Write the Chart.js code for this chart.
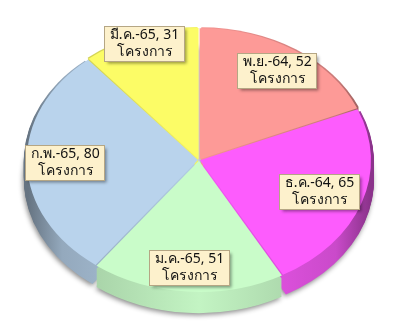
<!DOCTYPE html>
<html lang="th">
<head>
  <meta charset="UTF-8" />
  <title>จำนวนโครงการรายเดือน</title>
  <script src="https://cdn.jsdelivr.net/npm/chart.js"></script>
  <style>
    html, body { margin: 0; padding: 0; background: #ffffff; }
    #wrap { width: 399px; height: 334px; }
  </style>
</head>
<body>
  <div id="wrap"><canvas id="pieChart" width="399" height="334"></canvas></div>

  <script>
    // data
    const months = ["พ.ย.-64", "ธ.ค.-64", "ม.ค.-65", "ก.พ.-65", "มี.ค.-65"];
    const projects = [52, 65, 51, 80, 31];
    const unitLabel = "โครงการ";

    // look
    const sliceColors = ["#fd9a97", "#fd5cfd", "#c9fcc9", "#b9d3ec", "#fcfc66"];
    const labelReach = [0.8, 0.72, 0.8, 0.76, 0.92];   // how far out each label sits
    const view = { cx: 199, cy: 160, rx: 171, ry: 131, depth: 19 };
    const FONT = '14px Tahoma, "Noto Sans", "DejaVu Sans", sans-serif';

    function rgb(hex) {
      const n = parseInt(hex.slice(1), 16);
      return [(n >> 16) & 255, (n >> 8) & 255, n & 255];
    }
    function shade(hex, f) {
      const c = rgb(hex).map(v => Math.round(v * f));
      return `rgb(${c[0]},${c[1]},${c[2]})`;
    }

    function slicePath(ctx, arc) {
      const p = arc.getProps(["x", "y", "startAngle", "endAngle", "outerRadius"], true);
      const mid = (p.startAngle + p.endAngle) / 2;
      const off = arc.options.offset || 0;
      const x = p.x + Math.cos(mid) * off, y = p.y + Math.sin(mid) * off;
      ctx.beginPath();
      ctx.moveTo(x, y);
      ctx.arc(x, y, p.outerRadius, p.startAngle, p.endAngle);
      ctx.closePath();
    }

    // squash the round pie into a tilted disc with a side wall
    const tiltPlugin = {
      id: "tilt",
      beforeDatasetsDraw(chart) {
        const ctx = chart.ctx;
        const meta = chart.getDatasetMeta(0);
        const first = meta.data[0];
        const R = first.outerRadius;
        const sx = view.rx / R, sy = view.ry / R;

        ctx.save();
        ctx.translate(view.cx, view.cy);
        ctx.scale(sx, sy);
        ctx.translate(-first.x, -first.y);

        for (let d = view.depth; d >= 1; d--) {
          ctx.save();
          ctx.translate(0, d / sy);
          if (d === view.depth) {
            ctx.shadowColor = "rgba(0,0,0,0.45)";
            ctx.shadowBlur = 5;
            ctx.shadowOffsetX = -1;
            ctx.shadowOffsetY = 2;
          }
          meta.data.forEach((arc, i) => {
            const g = ctx.createLinearGradient(first.x - R, 0, first.x + R, 0);
            g.addColorStop(0, shade(sliceColors[i], 0.55));
            g.addColorStop(0.1, shade(sliceColors[i], 0.8));
            g.addColorStop(0.5, shade(sliceColors[i], 0.97));
            g.addColorStop(0.9, shade(sliceColors[i], 0.8));
            g.addColorStop(1, shade(sliceColors[i], 0.55));
            ctx.fillStyle = g;
            slicePath(ctx, arc);
            ctx.fill();
          });
          ctx.restore();
        }

        meta.data.forEach(arc => arc.draw(ctx));
        ctx.restore();

        // labels
        ctx.save();
        ctx.font = FONT;
        ctx.textAlign = "center";
        ctx.textBaseline = "middle";
        meta.data.forEach((arc, i) => {
          const mid = (arc.startAngle + arc.endAngle) / 2;
          const r = (arc.options.offset || 0) + labelReach[i] * R;
          const px = view.cx + sx * Math.cos(mid) * r;
          const py = view.cy + sy * Math.sin(mid) * r;
          const lines = [`${months[i]}, ${projects[i]}`, unitLabel];
          const w = Math.ceil(Math.max(...lines.map(t => ctx.measureText(t).width))) + 10;
          const h = 35;
          const bx = Math.round(px - w / 2) + 0.5, by = Math.round(py - h / 2) + 0.5;

          ctx.shadowColor = "rgba(0,0,0,0.4)";
          ctx.shadowBlur = 3;
          ctx.shadowOffsetX = 2;
          ctx.shadowOffsetY = 2;
          ctx.fillStyle = "#fdf1cc";
          ctx.fillRect(bx, by, w, h);
          ctx.shadowColor = "transparent";
          ctx.strokeStyle = "#b5a684";
          ctx.lineWidth = 1;
          ctx.strokeRect(bx, by, w, h);

          ctx.fillStyle = "#111111";
          ctx.fillText(lines[0], Math.round(px) + 0.5, by + 9);
          ctx.fillText(lines[1], Math.round(px) + 0.5, by + 26);
        });
        ctx.restore();
        return false;
      }
    };

    new Chart(document.getElementById("pieChart"), {
      type: "pie",
      data: {
        labels: months,
        datasets: [{
          data: projects,
          backgroundColor: sliceColors,
          borderWidth: 0,
          offset: 4,
          clip: false
        }]
      },
      options: {
        responsive: false,
        animation: false,
        events: [],
        layout: { padding: 0 },
        plugins: {
          legend: { display: false },
          tooltip: { enabled: false }
        }
      },
      plugins: [tiltPlugin]
    });
  </script>
</body>
</html>
